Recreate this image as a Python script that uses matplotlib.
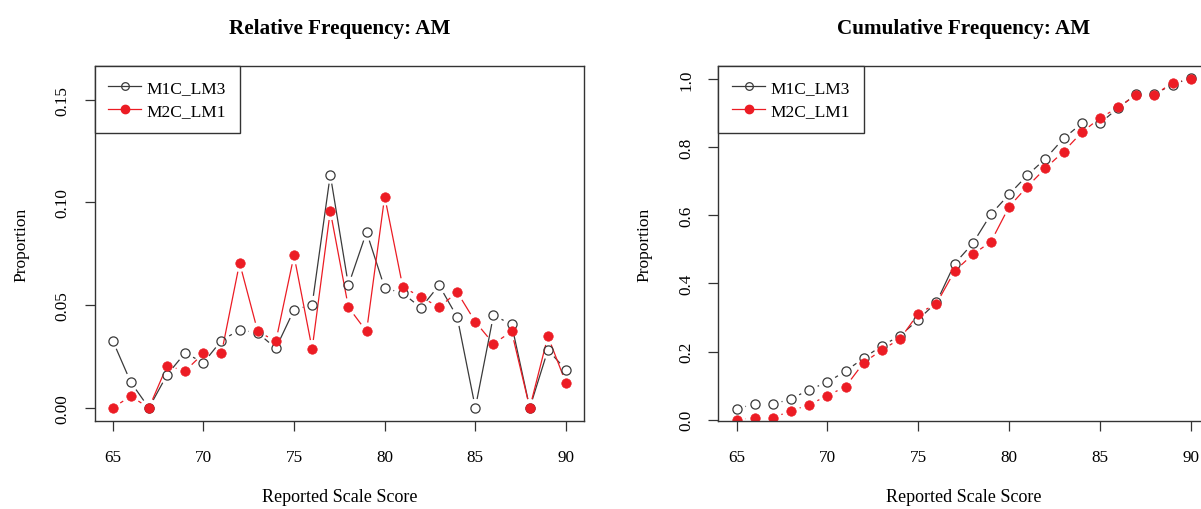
import numpy as np
import matplotlib
matplotlib.use("Agg")
import matplotlib.pyplot as plt
from matplotlib.collections import LineCollection

plt.rcParams['font.family'] = ['Liberation Serif', 'DejaVu Serif']

# reported scale scores and relative frequencies
scores = np.arange(65, 91)
m1c_lm3 = [0.0328, 0.0125, 0.0, 0.0161, 0.0268, 0.0219, 0.0328, 0.0380, 0.0365, 0.0290,
           0.0477, 0.0502, 0.1135, 0.0597, 0.0856, 0.0584, 0.0558, 0.0487, 0.0597, 0.0442,
           0.0, 0.0451, 0.0406, 0.0, 0.0282, 0.0185]
m2c_lm1 = [0.0, 0.0057, 0.0, 0.0205, 0.0180, 0.0265, 0.0265, 0.0706, 0.0372, 0.0325,
           0.0742, 0.0287, 0.0958, 0.0490, 0.0372, 0.1029, 0.0588, 0.0540, 0.0490, 0.0563,
           0.0419, 0.0312, 0.0372, 0.0, 0.0349, 0.0120]
names = ["M1C_LM3", "M2C_LM1"]

black = "#3a3a3a"
red = "#ec1c24"
GAP = 9  # px gap around points, like R type="b"


def gapped_line(ax, x, y, color):
    # segments between points, shortened at both ends in pixel space
    pts = ax.transData.transform(np.column_stack([x, y]))
    segs = []
    for p0, p1 in zip(pts[:-1], pts[1:]):
        d = p1 - p0
        L = np.hypot(*d)
        if L <= 2 * GAP:
            continue
        u = d / L
        a = ax.transData.inverted().transform(p0 + u * GAP)
        b = ax.transData.inverted().transform(p1 - u * GAP)
        segs.append([a, b])
    ax.add_collection(LineCollection(segs, colors=color, linewidths=0.9))


def panel(ax, y1, y2, title, ylim, yticks, yfmt):
    ax.set_xlim(64, 91)
    ax.set_ylim(*ylim)
    gapped_line(ax, scores, y1, black)
    gapped_line(ax, scores, y2, red)
    ax.plot(scores, y1, 'o', ls='none', ms=6.6, mfc='none', mec=black, mew=0.9)
    ax.plot(scores, y2, 'o', ls='none', ms=6.8, mfc=red, mec=red, mew=0.5)
    h1, = ax.plot([], [], 'o-', color=black, ms=5.5, mfc='none', mec=black, lw=0.9, mew=0.9)
    h2, = ax.plot([], [], 'o-', color=red, ms=6, mfc=red, mec=red, lw=0.9)
    leg = ax.legend([h1, h2], names, loc='upper left', borderaxespad=0, fancybox=False,
                    edgecolor='#333333', framealpha=1, fontsize=12.5, handlelength=1.9,
                    handletextpad=0.3, labelspacing=0.42, borderpad=0.8, numpoints=1)
    leg.get_frame().set_linewidth(1.0)
    ax.set_xticks([65, 70, 75, 80, 85, 90])
    ax.set_yticks(yticks)
    ax.set_yticklabels([yfmt % v for v in yticks], rotation=90, va='center')
    ax.tick_params(axis='both', direction='out', length=7.5, width=0.9, color='#333333',
                   labelsize=12.3)
    ax.tick_params(axis='x', pad=13)
    ax.tick_params(axis='y', pad=10)
    for s in ax.spines.values():
        s.set_color('#333333')
        s.set_linewidth(1.0)
    ax.set_title(title, fontsize=15.2, fontweight='bold', pad=24)
    ax.set_xlabel("Reported Scale Score", fontsize=13)
    ax.xaxis.set_label_coords(0.5, -0.214)
    ax.xaxis.label.set_va('center')
    ax.set_ylabel("Proportion", fontsize=12.5)
    ax.yaxis.set_label_coords(-0.150, 0.5)
    ax.yaxis.label.set_va('center')


fig = plt.figure(figsize=(12.01, 5.10), dpi=100)
ax1 = fig.add_axes([0.0787, 0.1725, 0.4077, 0.696])
ax2 = fig.add_axes([0.5982, 0.1725, 0.4084, 0.696])

panel(ax1, m1c_lm3, m2c_lm1, "Relative Frequency: AM", (-0.0064, 0.1664),
      [0.0, 0.05, 0.10, 0.15], "%.2f")
panel(ax2, np.cumsum(m1c_lm3), np.cumsum(m2c_lm1), "Cumulative Frequency: AM",
      (-0.0038, 1.038), [0.0, 0.2, 0.4, 0.6, 0.8, 1.0], "%.1f")

fig.savefig("out.png", dpi=100)
